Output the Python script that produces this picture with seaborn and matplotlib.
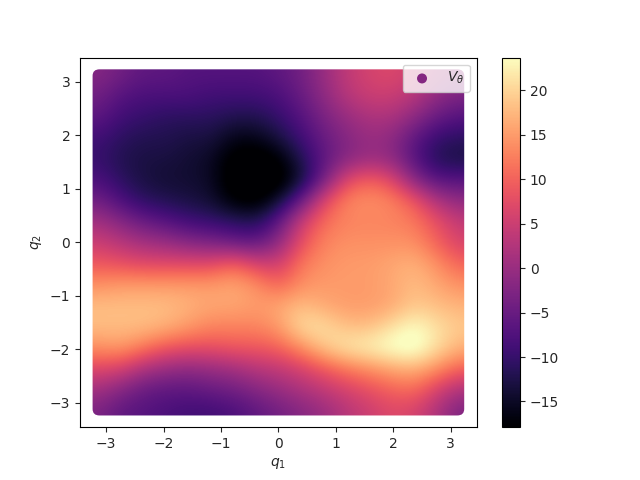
import numpy as np
import matplotlib
matplotlib.use('Agg')
import matplotlib.pyplot as plt
import seaborn as sns
from matplotlib.patches import FancyBboxPatch

# V_theta, one row per q2 from top (pi) to bottom (-pi)
v_row_01 = [-2, -4, -6, -6, -7, -7, -7, -7, -6, -4, 0, 4, 6, 7, 5, 2, 0]
v_row_02 = [-4, -7, -8, -8, -8, -9, -9, -9, -8, -5, -1, 3, 5, 5, 3, -1, -3]
v_row_03 = [-6, -9, -10, -11, -11, -11, -12, -12, -10, -7, -3, 0, 2, 2, -1, -5, -7]
v_row_04 = [-9, -11, -12, -12, -13, -13, -16, -16, -13, -9, -5, -2, 0, -1, -6, -10, -11]
v_row_05 = [-10, -12, -13, -13, -14, -15, -19, -20, -18, -12, -6, -2, 0, -1, -7, -12, -13]
v_row_06 = [-8, -11, -13, -14, -14, -15, -20, -21, -20, -14, -4, 7, 10, 7, -2, -7, -7]
v_row_07 = [-4, -8, -11, -12, -13, -14, -18, -19, -14, -5, 7, 13, 14, 13, 9, 2, -1]
v_row_08 = [1, -2, -5, -7, -9, -10, -11, -12, -6, 5, 11, 13, 13, 13, 12, 8, 4]
v_row_09 = [5, 3, 1, 0, -2, -3, -5, -6, -1, 8, 13, 14, 14, 14, 14, 10, 6]
v_row_10 = [9, 8, 7, 7, 7, 7, 10, 6, 5, 12, 14, 15, 15, 16, 17, 14, 10]
v_row_11 = [14, 15, 15, 15, 15, 15, 16, 14, 10, 14, 15, 15, 15, 16, 18, 16, 14]
v_row_12 = [18, 18, 18, 18, 17, 16, 16, 15, 16, 18, 16, 15, 15, 16, 19, 18, 17]
v_row_13 = [18, 18, 18, 17, 15, 13, 13, 13, 15, 21, 21, 18, 18, 21, 24, 21, 19]
v_row_14 = [14, 15, 12, 9, 8, 8, 9, 9, 10, 14, 19, 22, 23, 25, 26, 21, 17]
v_row_15 = [7, 6, 2, 0, -1, 0, 1, 3, 4, 6, 9, 12, 14, 16, 17, 14, 10]
v_row_16 = [1, -2, -5, -6, -6, -5, -4, -2, 0, 2, 4, 6, 8, 10, 11, 6, 2]
v_row_17 = [-3, -6, -7, -8, -9, -9, -8, -6, -4, -2, 0, 3, 5, 7, 6, 2, -3]

V = np.array([v_row_01, v_row_02, v_row_03, v_row_04, v_row_05, v_row_06,
              v_row_07, v_row_08, v_row_09, v_row_10, v_row_11, v_row_12,
              v_row_13, v_row_14, v_row_15, v_row_16, v_row_17], dtype=float)
vmin, vmax = -17.9, 23.7

q1 = np.linspace(-np.pi, np.pi, V.shape[1])
q2 = np.linspace(np.pi, -np.pi, V.shape[0])
Q1, Q2 = np.meshgrid(q1, q2)

sns.set_style('ticks', {'axes.edgecolor': 'black', 'xtick.bottom': True, 'ytick.left': True})
plt.rcParams['font.family'] = ['DejaVu Sans']
fig, ax = plt.subplots(figsize=(6.4, 4.8), dpi=100)

pts = sns.scatterplot(x=Q1.ravel(), y=Q2.ravel(), c=V.ravel(), cmap='magma', vmin=vmin, vmax=vmax,
                      s=16, linewidth=0, label=r'$V_\theta$', legend=False, ax=ax)
sc = pts.collections[0]

# smooth surface on top of the points, the corners stay round like the marker edge
half = np.pi * V.shape[0] / (V.shape[0] - 1)
im = ax.imshow(V, cmap='magma', vmin=vmin, vmax=vmax, extent=(-half, half, -half, half),
               interpolation='bicubic', aspect='auto', zorder=3)
edge = FancyBboxPatch((-np.pi, -np.pi), 2 * np.pi, 2 * np.pi, boxstyle='round,pad=0.095,rounding_size=0.12',
                      transform=ax.transData, facecolor='none', edgecolor='none')
ax.add_patch(edge)
im.set_clip_path(edge)

ax.set_xlim(-3.456, 3.456)
ax.set_ylim(-3.456, 3.456)
ax.set_xlabel(r'$q_1$')
ax.set_ylabel(r'$q_2$')
ax.legend(loc='upper right', markerscale=1.8).set_zorder(5)
fig.colorbar(sc, ax=ax)
fig.savefig('out.png', dpi=100)
